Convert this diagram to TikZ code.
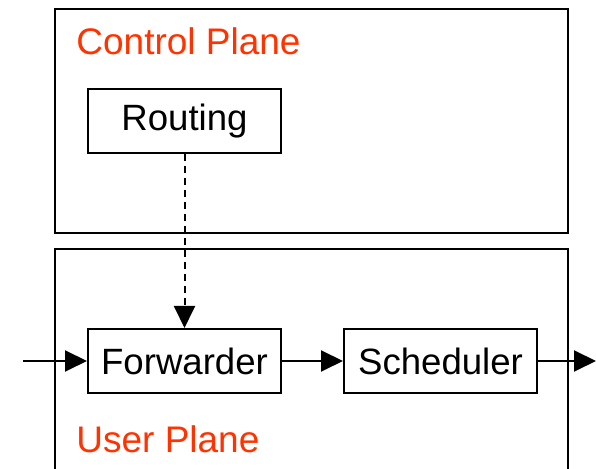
\documentclass[tikz,border=0pt]{standalone}
\usepackage{fontspec}
\setmainfont{Liberation Sans}
\usepackage{xcolor}
\usetikzlibrary{arrows.meta,positioning}
\definecolor{planered}{HTML}{FF3300}

\begin{document}
\begin{tikzpicture}[
    x=0.5pt, y=-0.5pt,
    box/.style={rectangle, draw, line width=1pt, minimum width=96.5pt, minimum height=32pt, inner sep=0pt, font=\fontsize{18.3}{22}\selectfont},
    plane/.style={draw, line width=1pt},
    planelabel/.style={anchor=base west, inner sep=0pt, text=planered, font=\fontsize{18.5}{22}\selectfont},
    arrow/.style={-{Triangle[length=11pt,width=10.5pt]}, line width=1pt},
    dasharrow/.style={-{Triangle[length=11pt,width=10.5pt]}, line width=1pt, dash pattern=on 3.5pt off 2.5pt}
]
\useasboundingbox (0,0) rectangle (596,469);

% Planes
\draw[plane] (55,9) rectangle (568,233);
\draw[plane] (55,469) |- (568,249) -- (568,469);
\node[planelabel] (cplabel) at (76,55) {Control Plane};
\node[planelabel] (uplabel) at (76,453) {User Plane};

% Boxes
\node[box] (routing) at (184.5,121) {Routing};
\node[box] (fwd) at (184.5,361) {Forwarder};
\node[box] (sched) at (440.5,361) {Scheduler};

% Ends
\coordinate (in) at (23,361);
\coordinate (out) at (596,361);

% Arrows
\draw[dasharrow] (routing) -- (fwd);
\draw[arrow] (in) -- (fwd);
\draw[arrow] (fwd) -- (sched);
\draw[arrow] (sched) -- (out);

\end{tikzpicture}
\end{document}
